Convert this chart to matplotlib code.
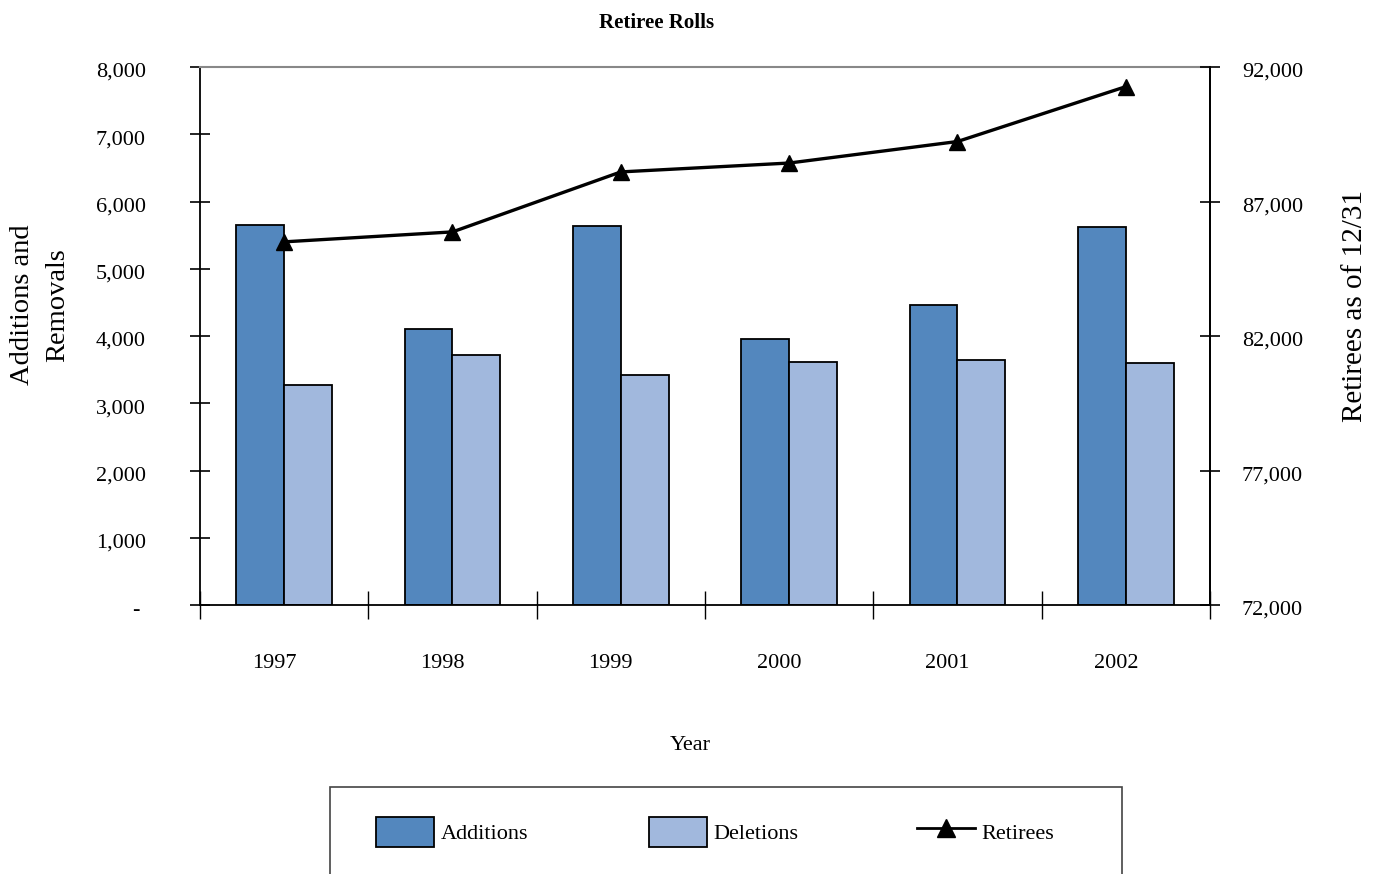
import matplotlib
matplotlib.use("Agg")
import matplotlib.pyplot as plt
import matplotlib.transforms as mtransforms
import numpy as np
from matplotlib.patches import Patch, Rectangle
from matplotlib.lines import Line2D
from matplotlib.ticker import FuncFormatter, FixedLocator

plt.rcParams['font.family'] = ['Liberation Serif', 'DejaVu Serif']

years = ['1997', '1998', '1999', '2000', '2001', '2002']
additions = [5650, 4100, 5640, 3960, 4460, 5620]
deletions = [3270, 3720, 3420, 3620, 3640, 3600]
retirees = [85500, 85870, 88100, 88430, 89230, 91270]

add_color = '#5387BE'
del_color = '#A1B8DD'

W, H = 1374, 874
fig = plt.figure(figsize=(W / 100, H / 100), dpi=100)
ax = fig.add_axes([200 / W, 1 - 605 / H, 1010 / W, 538 / H])

x = np.arange(len(years))
bw = 0.285
ax.bar(x - bw / 2, additions, width=bw, color=add_color, edgecolor='black', linewidth=1.3, zorder=2)
ax.bar(x + bw / 2, deletions, width=bw, color=del_color, edgecolor='black', linewidth=1.3, zorder=2)

ax.set_xlim(-0.5, len(years) - 0.5)
ax.set_ylim(0, 8000)
ax.set_yticks(np.arange(0, 8001, 1000))
ax.yaxis.set_major_formatter(FuncFormatter(lambda v, p: '- ' if v == 0 else f'{int(v):,}'))
ax.tick_params(axis='y', direction='inout', length=14, width=1.2, pad=32, labelsize=16)

ax.set_xticks(x)
ax.set_xticklabels(years)
ax.xaxis.set_minor_locator(FixedLocator(np.arange(-0.5, len(years), 1.0)))
ax.tick_params(axis='x', which='major', length=0, pad=35, labelsize=16)
ax.tick_params(axis='x', which='minor', direction='inout', length=20, width=1.0)

# year labels sit slightly left of the group centres
shift = mtransforms.ScaledTranslation(-10 / 100, 0, fig.dpi_scale_trans)
for lbl in ax.get_xticklabels():
    lbl.set_transform(lbl.get_transform() + shift)

for s in ['left', 'bottom', 'right']:
    ax.spines[s].set_color('black')
    ax.spines[s].set_linewidth(1.3)
ax.spines['top'].set_color('#888888')
ax.spines['top'].set_linewidth(1.5)

ax2 = ax.twinx()
ax2.set_ylim(72000, 92000)
ax2.set_yticks(np.arange(72000, 92001, 5000))
ax2.yaxis.set_major_formatter(FuncFormatter(lambda v, p: f'{int(v):,}'))
ax2.tick_params(axis='y', direction='inout', length=14, width=1.2, pad=16, labelsize=16)
ax2.plot(x, retirees, color='black', linewidth=2.4, marker='^', markersize=12,
         markerfacecolor='black', markeredgecolor='black', zorder=3)
for s in ['left', 'bottom', 'top']:
    ax2.spines[s].set_visible(False)
ax2.spines['right'].set_linewidth(1.3)

# nudge value labels a little below their ticks
down = mtransforms.ScaledTranslation(0, -3 / 100, fig.dpi_scale_trans)
for lbl in ax.get_yticklabels() + ax2.get_yticklabels():
    lbl.set_transform(lbl.get_transform() + down)

ax.set_zorder(1)
ax2.set_zorder(2)
ax2.patch.set_visible(False)

fig.text(657 / W, 1 - 23 / H, 'Retiree Rolls', ha='center', va='center', fontsize=15, fontweight='bold')
fig.text(40 / W, 1 - 305 / H, 'Additions and\nRemovals', ha='center', va='center',
         rotation=90, fontsize=20.5, linespacing=1.5)
fig.text(1355 / W, 1 - 306 / H, 'Retirees as of 12/31', ha='center', va='center',
         rotation=90, fontsize=21)
fig.text(690 / W, 1 - 745 / H, 'Year', ha='center', va='center', fontsize=16)

# legend frame
fig.patches.append(Rectangle((330 / W, -0.05), 792 / W, 0.05 + 1 - 787 / H,
                             transform=fig.transFigure, fill=False,
                             edgecolor='#444444', linewidth=1.2, clip_on=False))

legend_y = 1 - 832 / H
entries = [
    (376, Patch(facecolor=add_color, edgecolor='black', linewidth=1.3), 'Additions'),
    (649, Patch(facecolor=del_color, edgecolor='black', linewidth=1.3), 'Deletions'),
    (917, Line2D([], [], color='black', linewidth=2.0, marker='^', markersize=13), 'Retirees'),
]
for xpos, handle, label in entries:
    fig.legend([handle], [label], loc='center left', bbox_to_anchor=(xpos / W, legend_y),
               bbox_transform=fig.transFigure, frameon=False, fontsize=16,
               borderpad=0, borderaxespad=0, handlelength=2.6, handleheight=1.7,
               handletextpad=0.3, numpoints=1)

fig.savefig('out.png', dpi=100)
